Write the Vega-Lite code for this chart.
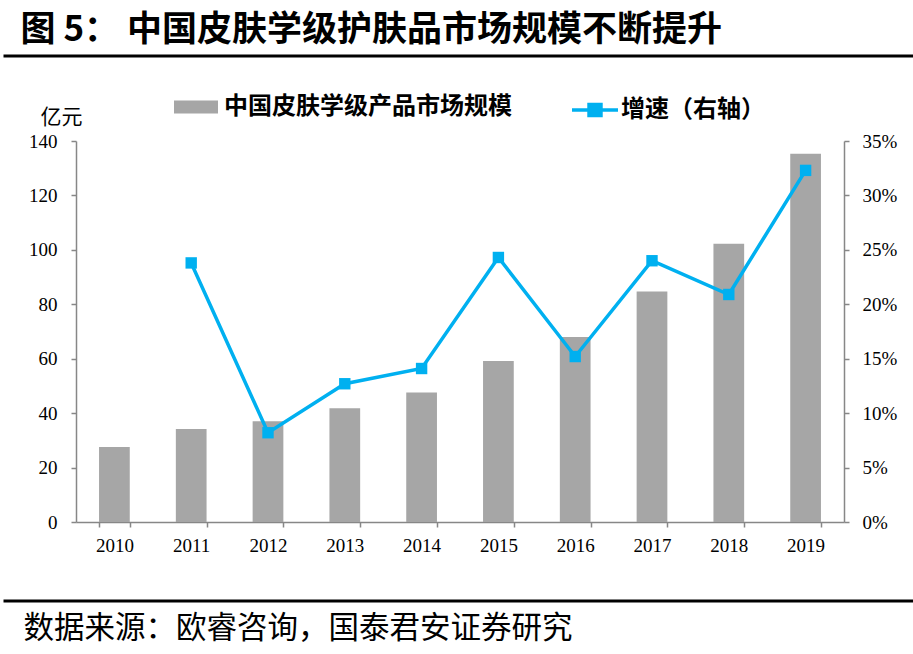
{
  "$schema": "https://vega.github.io/schema/vega-lite/v6.json",
  "width": 768,
  "height": 381,
  "autosize": {"type": "none"},
  "padding": {"left": 76, "top": 141, "right": 69, "bottom": 132},
  "background": "white",
  "data": {
    "values": [
      {"year": "2010", "size": 27.6, "growth": null},
      {"year": "2011", "size": 34.2, "growth": 0.238},
      {"year": "2012", "size": 37.0, "growth": 0.082},
      {"year": "2013", "size": 41.8, "growth": 0.127},
      {"year": "2014", "size": 47.6, "growth": 0.141},
      {"year": "2015", "size": 59.2, "growth": 0.243},
      {"year": "2016", "size": 68.0, "growth": 0.152},
      {"year": "2017", "size": 84.7, "growth": 0.240},
      {"year": "2018", "size": 102.2, "growth": 0.209},
      {"year": "2019", "size": 135.3, "growth": 0.323}
    ]
  },
  "config": {
    "view": {"stroke": null},
    "axis": {
      "grid": false,
      "labelFont": "Liberation Serif",
      "labelFontSize": 19,
      "labelColor": "#000000",
      "domainColor": "#878787",
      "tickColor": "#878787",
      "domainWidth": 1.5,
      "tickWidth": 1.5,
      "tickSize": 5
    },
    "legend": {
      "labelFont": "Noto Sans CJK SC",
      "labelFontSize": 24,
      "labelFontWeight": "bold",
      "labelColor": "#000000",
      "labelLimit": 500,
      "padding": 0
    }
  },
  "resolve": {
    "scale": {"x": "independent", "y": "independent", "color": "independent"},
    "axis": {"x": "independent", "y": "independent"}
  },
  "layer": [
    {
      "mark": {"type": "bar"},
      "encoding": {
        "x": {
          "field": "year", "type": "nominal", "sort": null,
          "scale": {"paddingInner": 0.6, "paddingOuter": 0.3},
          "axis": {"orient": "bottom", "title": null, "labelAngle": 0, "tickBand": "extent", "labelPadding": 9.5}
        },
        "y": {
          "field": "size", "type": "quantitative",
          "scale": {"domain": [0, 140], "nice": false},
          "axis": {
            "orient": "left", "values": [0, 20, 40, 60, 80, 100, 120, 140],
            "title": "亿元", "titleAngle": 0, "titleX": -15, "titleY": -18,
            "titleAlign": "center", "titleBaseline": "alphabetic",
            "titleFont": "Noto Sans CJK SC", "titleFontSize": 21, "titleFontWeight": "normal", "titleColor": "#000000",
            "labelPadding": 14
          }
        },
        "color": {
          "datum": "中国皮肤学级产品市场规模",
          "scale": {"range": ["#A6A6A6"]},
          "legend": {
            "orient": "none", "legendX": 98, "legendY": -56, "title": null,
            "symbolType": "M-1,-0.3H1V0.3H-1Z", "symbolSize": 1936, "symbolStrokeWidth": 0,
            "labelOffset": 6
          }
        }
      }
    },
    {
      "mark": {"type": "line", "strokeWidth": 3.5, "point": {"shape": "square", "size": 130, "filled": true}},
      "encoding": {
        "x": {
          "field": "year", "type": "nominal", "sort": null,
          "scale": {"paddingInner": 0.6, "paddingOuter": 0.3},
          "axis": null
        },
        "y": {
          "field": "growth", "type": "quantitative",
          "scale": {"domain": [0, 0.35], "nice": false},
          "axis": {
            "orient": "right", "values": [0, 0.05, 0.1, 0.15, 0.2, 0.25, 0.3, 0.35],
            "format": ".0%", "title": null, "labelPadding": 13
          }
        },
        "color": {
          "datum": "增速（右轴）",
          "scale": {"range": ["#00B0F0"]},
          "legend": {
            "orient": "none", "legendX": 494, "legendY": -56, "title": null,
            "symbolType": "M-1,0H1M-0.26,-0.24H0.26V0.24H-0.26Z", "symbolSize": 2116,
            "symbolStrokeWidth": 3.5, "symbolFillColor": "#00B0F0", "symbolStrokeColor": "#00B0F0",
            "labelOffset": 1
          }
        }
      }
    },
    {
      "mark": {"type": "point", "opacity": 0},
      "encoding": {
        "x": {
          "field": "year", "type": "nominal", "sort": null,
          "scale": {"type": "point", "range": [-73, 837]},
          "axis": {
            "orient": "top", "offset": 85.5, "domainColor": "#000000", "domainWidth": 3,
            "ticks": false, "labels": false,
            "title": "图 5： 中国皮肤学级护肤品市场规模不断提升",
            "titleX": -56, "titleY": -15, "titleAlign": "left", "titleBaseline": "alphabetic",
            "titleFont": "Noto Sans CJK SC", "titleFontSize": 35, "titleFontWeight": "bold", "titleColor": "#000000"
          }
        }
      }
    },
    {
      "mark": {"type": "point", "opacity": 0},
      "encoding": {
        "x": {
          "field": "year", "type": "nominal", "sort": null,
          "scale": {"type": "point", "range": [-73, 837]},
          "axis": {
            "orient": "bottom", "offset": 78.5, "domainColor": "#000000", "domainWidth": 3,
            "ticks": false, "labels": false,
            "title": "数据来源：欧睿咨询，国泰君安证券研究",
            "titleX": -53, "titleY": 37, "titleAlign": "left", "titleBaseline": "alphabetic",
            "titleFont": "Noto Sans CJK SC", "titleFontSize": 30.5, "titleFontWeight": "normal", "titleColor": "#000000"
          }
        }
      }
    }
  ]
}
